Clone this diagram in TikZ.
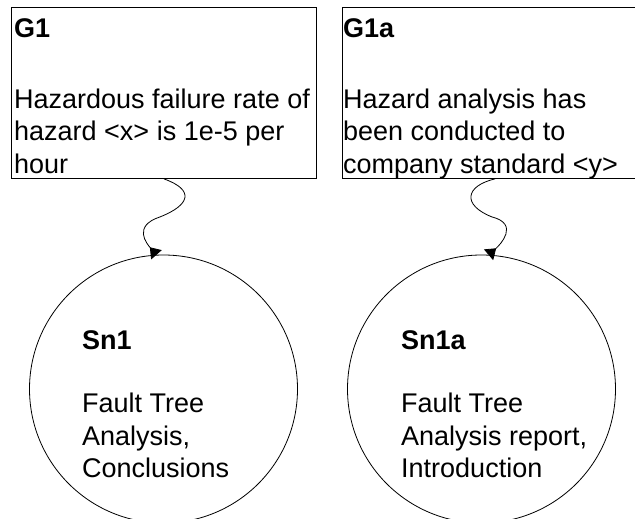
\documentclass[tikz,border=0pt]{standalone}
\usepackage{fontspec}
\setmainfont{Liberation Sans}
\usepackage{tikz}
\usetikzlibrary{arrows.meta,calc}

\begin{document}
\begin{tikzpicture}[x=1pt,y=1pt,
    goal/.style={draw, line width=0.9pt, rectangle, minimum width=305pt, minimum height=171pt, inner sep=0pt, anchor=north west},
    solution/.style={draw, line width=0.8pt, circle, minimum size=268pt, inner sep=0pt},
    gsntext/.style={anchor=north west, inner sep=0pt, align=left, font=\fontsize{27}{32.5}\selectfont},
    solvedby/.style={line width=0.8pt, -{Triangle[reversed,length=10pt,width=14pt]}}]
    \clip (0,0) rectangle (635,-519);
    \useasboundingbox (0,0) rectangle (635,-519);

    \node[goal] (G1) at (11,-7) {};
    \node[goal] (G1a) at (342,-7) {};
    \node[solution] (Sn1) at (163.5,-389) {};
    \node[solution] (Sn1a) at (481.5,-389) {};

    \node[gsntext] (G1txt) at (14,-18) {\textbf{G1}\\[38.5pt]Hazardous failure rate of\\hazard <x> is 1e-5 per\\hour};
    \node[gsntext] (G1atxt) at (343,-18) {\textbf{G1a}\\[38.5pt]Hazard analysis has\\been conducted to\\company standard <y>};
    \node[gsntext] (Sn1txt) at (82,-330) {\textbf{Sn1}\\[31pt]Fault Tree\\Analysis,\\Conclusions};
    \node[gsntext] (Sn1atxt) at (401,-330) {\textbf{Sn1a}\\[31pt]Fault Tree\\Analysis report,\\Introduction};

    % wavy solved-by links
    \coordinate (m1) at ($(G1.south)!0.5!(Sn1.93)$);
    \coordinate (m2) at ($(G1a.south)!0.5!(Sn1a.87)$);
    \draw[solvedby] (G1.south) .. controls (195,-190) and (190,-205) .. (m1) .. controls (132,-226) and (147,-244) .. (Sn1.93);
    \draw[solvedby] (G1a.south) .. controls (465,-186) and (462,-205) .. (m2) .. controls (520,-224) and (500,-245) .. (Sn1a.87);
\end{tikzpicture}
\end{document}
